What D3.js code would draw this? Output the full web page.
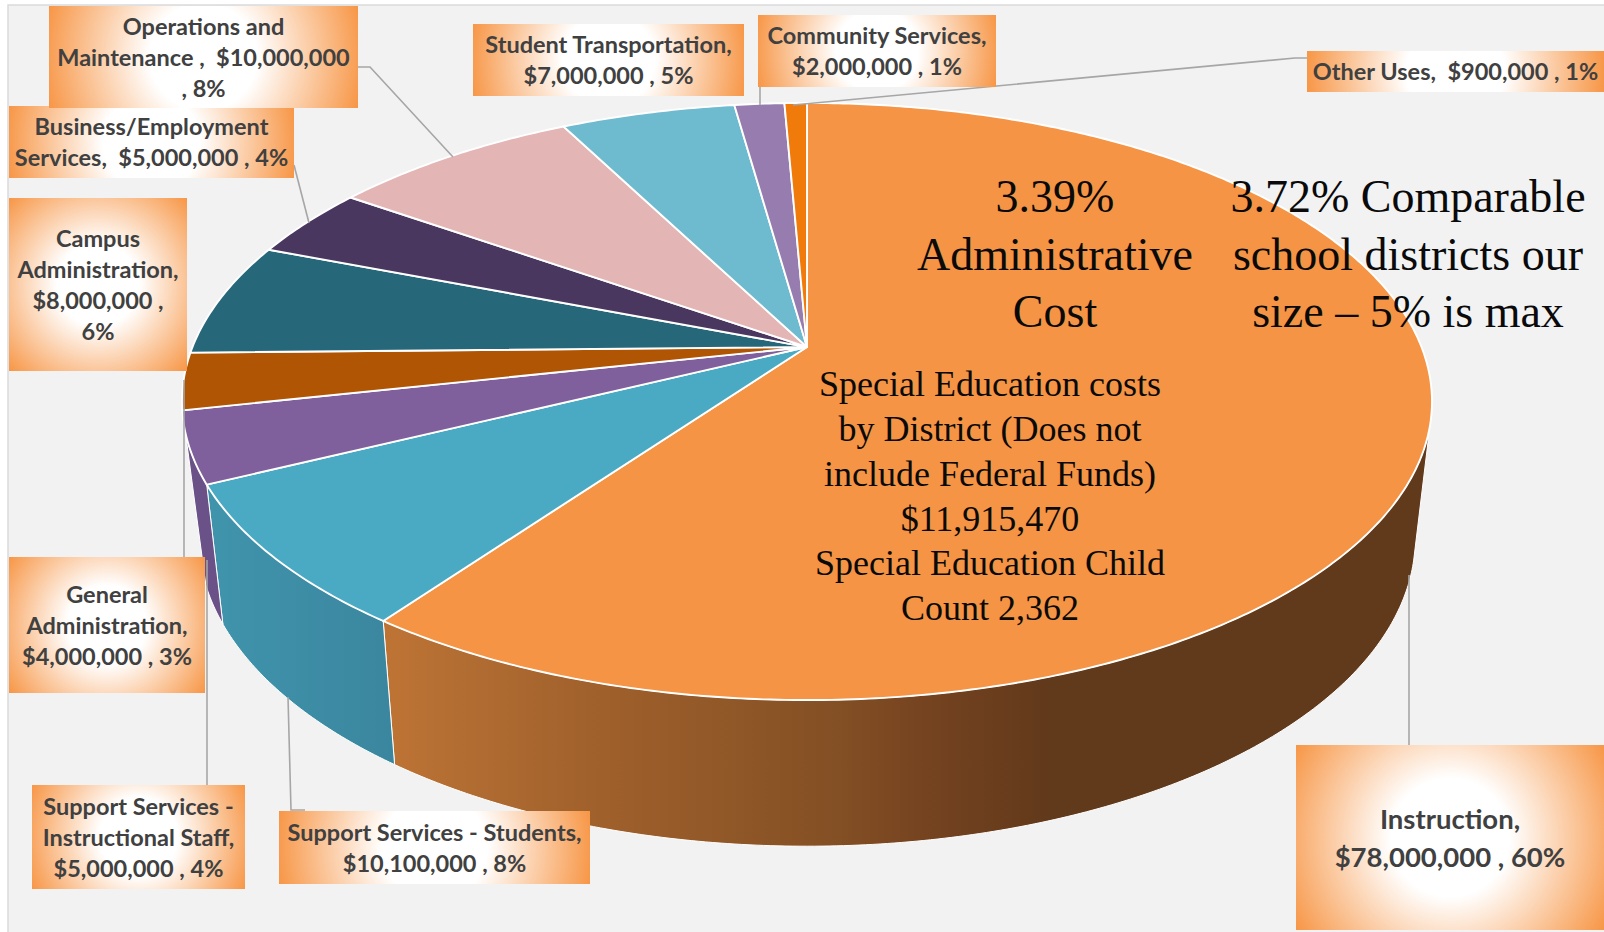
<!DOCTYPE html>
<html>
<head>
<meta charset="utf-8">
<script src="https://cdn.jsdelivr.net/npm/d3@7/dist/d3.min.js"></script>
<style>
  html, body { margin: 0; padding: 0; background: #fff; }
  svg { display: block; }
  text { white-space: pre; text-anchor: middle; }
  .tag { font-family: Lato, "Open Sans", sans-serif; font-weight: 700; fill: #404040; }
  .note { font-family: "Liberation Serif", serif; fill: #0a0a0a; }
</style>
</head>
<body>
<svg id="chart" width="1604" height="932"></svg>
<script>
// Budget by use of funds, in dollars, clockwise from twelve o'clock.
const categories = ["Instruction", "Support Services - Students", "Support Services - Instructional Staff",
  "General Administration", "Campus Administration", "Business/Employment Services",
  "Operations and Maintenance", "Student Transportation", "Community Services", "Other Uses"];
const amounts = [78000000, 10100000, 5000000, 4000000, 8000000, 5000000, 10000000, 7000000, 2000000, 900000];
const labelLines = [
  ["Instruction,", "$78,000,000 , 60%"],
  ["Support Services - Students,", "$10,100,000 , 8%"],
  ["Support Services -", "Instructional Staff,", "$5,000,000 , 4%"],
  ["General", "Administration,", "$4,000,000 , 3%"],
  ["Campus", "Administration,", "$8,000,000 ,", "6%"],
  ["Business/Employment", "Services,  $5,000,000 , 4%"],
  ["Operations and", "Maintenance ,  $10,000,000", ", 8%"],
  ["Student Transportation,", "$7,000,000 , 5%"],
  ["Community Services,", "$2,000,000 , 1%"],
  ["Other Uses,  $900,000 , 1%"]
];
const topColors = ["#F49444", "#4AA9C3", "#7F609C", "#B05504", "#26677A", "#4A375F", "#E3B5B5", "#6EBACF", "#967CAF", "#F17B0A"];
const sideColors = ["url(#instructionSide)", "url(#studentsSide)", "#6A5288", "#8A4303", "#1E5262", "#3A2B4A", "#B59090", "#5894A5", "#78638C", "#C06208"];

// Label boxes: left, top, right, bottom.
const labelBoxes = [
  [1296, 745, 1604, 930], [279, 811, 590, 884], [32, 785, 245, 889], [9, 557, 205, 693], [9, 198, 187, 371],
  [9, 106, 294, 178], [49, 6, 358, 108], [473, 24, 744, 96], [758, 15, 996, 87], [1307, 51, 1604, 92]
];
// Leader lines from each slice to its label.
const leaders = [
  [[1409, 575], [1409, 745]],
  [[288, 697], [291, 810], [305, 810]],
  [[207, 560], [207, 785]],
  [[184, 380], [184, 557]],
  [],
  [[294, 165], [309, 223]],
  [[358, 67], [370, 67], [453, 157]],
  [],
  [[760, 87], [760, 105]],
  [[793, 105], [1295, 58], [1307, 58]]
];
const adminNote = ["3.39%", "Administrative", "Cost"];
const compareNote = ["3.72% Comparable", "school districts our", "size \u2013 5% is max"];
const specialEdNote = ["Special Education costs", "by District (Does not", "include Federal Funds)", "$11,915,470", "Special Education Child", "Count 2,362"];

const svg = d3.select("#chart");
const defs = svg.append("defs");

// Perspective view of a disc: the pie's tilted faces are projected circles.
const perspective = -0.1826;
const topFace = { x0: 807, y0: 347, a: 614.5, b: 288.6 };
const bottomFace = { x0: 807, y0: 482, a: 598, b: 297.7 };
function project(face, angle) {
  const u = Math.sin(angle), v = -Math.cos(angle), w = 1 + perspective * v;
  return [face.x0 + face.a * u / w, face.y0 + face.b * v / w];
}
function arcPoints(face, a0, a1) {
  const n = Math.max(2, Math.ceil(Math.abs(a1 - a0) / 0.01));
  return d3.range(n + 1).map(i => project(face, a0 + (a1 - a0) * i / n));
}
const line = d3.line();
const rad = deg => deg * Math.PI / 180;

const slices = d3.pie().sort(null).startAngle(0).endAngle(2 * Math.PI)(amounts);

// Page and plot background
svg.append("rect").attr("width", 1604).attr("height", 932).attr("fill", "#fff");
svg.append("rect").attr("x", 8).attr("y", 5).attr("width", 1600).attr("height", 932)
  .attr("fill", "#F2F2F2").attr("stroke", "#DADADA").attr("stroke-width", 1.5);

// Shading of the rim
const brown = defs.append("linearGradient").attr("id", "instructionSide")
  .attr("gradientUnits", "userSpaceOnUse").attr("x1", 394).attr("x2", 1050).attr("y1", 0).attr("y2", 0);
[[0, "#BD7334"], [0.1, "#B26D32"], [0.335, "#9E5F2B"], [0.54, "#8E5627"], [0.675, "#834F24"], [0.81, "#754320"], [0.947, "#673C1C"], [1, "#61391B"]]
  .forEach(([o, c]) => brown.append("stop").attr("offset", o).attr("stop-color", c));
const teal = defs.append("linearGradient").attr("id", "studentsSide")
  .attr("gradientUnits", "userSpaceOnUse").attr("x1", 222).attr("x2", 394).attr("y1", 0).attr("y2", 0);
[[0, "#3F93AB"], [1, "#3B869F"]].forEach(([o, c]) => teal.append("stop").attr("offset", o).attr("stop-color", c));

// Only the part of the rim between the silhouette tangents faces the viewer;
// the tangents touch the two faces at slightly different angles.
const rimStart = { top: rad(105), bottom: rad(104.5) };
const rimEnd = { top: rad(253.6), bottom: rad(251) };
svg.append("g").selectAll("path").data(slices.filter(d => d.startAngle < rimEnd.top && d.endAngle > rimStart.top)).join("path")
  .attr("d", d => {
    const upper = arcPoints(topFace, Math.max(d.startAngle, rimStart.top), Math.min(d.endAngle, rimEnd.top));
    const lower = arcPoints(bottomFace, Math.min(d.endAngle, rimEnd.bottom), Math.max(d.startAngle, rimStart.bottom));
    return line(upper.concat(lower)) + "Z";
  })
  .attr("fill", d => sideColors[d.index])
  .attr("stroke", "#fff").attr("stroke-width", 1).attr("stroke-linejoin", "round");

// Top face
const apex = [topFace.x0, topFace.y0];
svg.append("g").selectAll("path").data(slices).join("path")
  .attr("d", d => line([apex].concat(arcPoints(topFace, d.startAngle, d.endAngle))) + "Z")
  .attr("fill", d => topColors[d.index])
  .attr("stroke", "#fff").attr("stroke-width", 1.9).attr("stroke-linejoin", "round");

// Leader lines
svg.append("g").selectAll("path").data(leaders.filter(l => l.length)).join("path")
  .attr("d", d => line(d)).attr("fill", "none").attr("stroke", "#A6A6A6").attr("stroke-width", 1.6);

// Data labels, each with a soft white-to-orange radial fill
const tags = svg.append("g").selectAll("g").data(categories).join("g");
labelBoxes.forEach(([x0, y0, x1, y1], i) => {
  const g = defs.append("radialGradient").attr("id", "tag" + i).attr("gradientUnits", "userSpaceOnUse")
    .attr("cx", (x0 + x1) / 2).attr("cy", (y0 + y1) / 2).attr("r", Math.hypot(x1 - x0, y1 - y0) / 2);
  [[0, "#fff"], [0.33, "#fff"], [1, "#F79646"]].forEach(([o, c]) => g.append("stop").attr("offset", o).attr("stop-color", c));
});
tags.append("rect")
  .attr("x", (d, i) => labelBoxes[i][0]).attr("y", (d, i) => labelBoxes[i][1])
  .attr("width", (d, i) => labelBoxes[i][2] - labelBoxes[i][0])
  .attr("height", (d, i) => labelBoxes[i][3] - labelBoxes[i][1])
  .attr("fill", (d, i) => `url(#tag${i})`);
tags.each(function (d, i) {
  const [x0, y0, x1, y1] = labelBoxes[i];
  const size = i === 0 ? 27.5 : 23.5, gap = i === 0 ? 38 : 31;
  const lines = labelLines[i];
  const top = (y0 + y1) / 2 - gap * (lines.length - 1) / 2;
  d3.select(this).selectAll("text").data(lines).join("text").attr("class", "tag")
    .attr("x", (x0 + x1) / 2).attr("y", (t, j) => top + j * gap)
    .attr("dy", "0.38em").attr("font-size", size).text(t => t);
});

// Annotations over the pie
function note(lines, cx, firstY, gap, size) {
  svg.append("g").selectAll("text").data(lines).join("text").attr("class", "note")
    .attr("x", cx).attr("y", (t, j) => firstY + j * gap).attr("dy", "0.35em")
    .attr("font-size", size).text(t => t);
}
note(adminNote, 1055, 196, 57.5, 46);
note(compareNote, 1408, 196, 57.5, 46);
note(specialEdNote, 990, 383.5, 44.8, 36);
</script>
</body>
</html>
